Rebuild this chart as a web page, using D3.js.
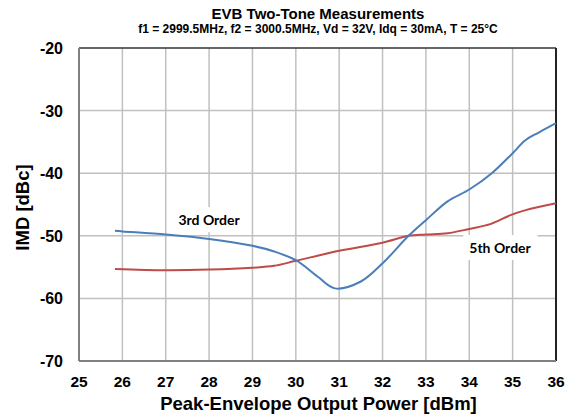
<!DOCTYPE html>
<html><head><meta charset="utf-8">
<script src="https://cdn.jsdelivr.net/npm/d3@7"></script>
<style>body{margin:0;background:#fff}svg{display:block}</style>
</head><body>
<svg id="c" width="566" height="414"></svg>
<script>
const title = "EVB Two-Tone Measurements";
const subtitle = "f1 = 2999.5MHz, f2 = 3000.5MHz, Vd = 32V, Idq = 30mA, T = 25°C";
const xLabel = "Peak-Envelope Output Power [dBm]";
const yLabel = "IMD [dBc]";
const xTicks = [25,26,27,28,29,30,31,32,33,34,35,36];
const yTicks = [-20,-30,-40,-50,-60,-70];
const thirdX = [25.83,26,27,28,29,29.5,30,30.5,30.9,31.5,32,32.6,33,33.5,34,34.52,35,35.3,35.6,36];
const thirdY = [-49.2,-49.3,-49.8,-50.5,-51.6,-52.5,-53.9,-56.5,-58.4,-57.3,-54.4,-50.0,-47.5,-44.5,-42.6,-40.0,-36.8,-34.7,-33.5,-32.0];
const fifthX = [25.83,27,28,29,29.5,30,31,32,32.6,33,33.5,34,34.5,34.95,35.3,36];
const fifthY = [-55.3,-55.5,-55.4,-55.1,-54.8,-54.0,-52.4,-51.1,-50.0,-49.8,-49.6,-48.9,-48.1,-46.7,-45.9,-44.8];
const seriesLabels = ["3rd Order","5th Order"];

const svg = d3.select("#c");
const L = 79, R = 556, T = 48, B = 361;
const x = d3.scaleLinear().domain([25,36]).range([L,R]);
const y = d3.scaleLinear().domain([-70,-20]).range([B,T]);
const F = "'Liberation Sans', Arial, sans-serif";

// gridlines
svg.append("g").selectAll("line").data(xTicks.slice(1,-1)).join("line")
  .attr("x1",d=>x(d)).attr("x2",d=>x(d)).attr("y1",T).attr("y2",B)
  .attr("stroke","#c0c0c0").attr("stroke-width",1.5);
svg.append("g").selectAll("line").data(yTicks.slice(1,-1)).join("line")
  .attr("y1",d=>y(d)).attr("y2",d=>y(d)).attr("x1",L).attr("x2",R)
  .attr("stroke","#c0c0c0").attr("stroke-width",1.5);

// frame
svg.append("line").attr("x1",L).attr("x2",R).attr("y1",T).attr("y2",T).attr("stroke","#333").attr("stroke-width",1.5);
svg.append("line").attr("x1",R).attr("x2",R).attr("y1",T).attr("y2",B).attr("stroke","#222").attr("stroke-width",2);
svg.append("line").attr("x1",L).attr("x2",L).attr("y1",T).attr("y2",B).attr("stroke","#808080").attr("stroke-width",2);
svg.append("line").attr("x1",L).attr("x2",R).attr("y1",B).attr("y2",B).attr("stroke","#808080").attr("stroke-width",2);

// label boxes
const labels = [
  {t:seriesLabels[0], xv:28.0, yv:-48.3},
  {t:seriesLabels[1], xv:34.71, yv:-52.75}
];
const lg = svg.append("g");
labels.forEach(l=>{
  const tx = lg.append("text").attr("x",x(l.xv)).attr("y",y(l.yv))
    .attr("text-anchor","middle").attr("font-family","Lato, 'Open Sans', sans-serif")
    .attr("font-weight","bold").attr("font-size",14).attr("fill","#000").text(l.t);
  const bb = tx.node().getBBox();
  lg.insert("rect","text").attr("x",bb.x-6).attr("y",bb.y-4).attr("width",bb.width+12).attr("height",bb.height+8).attr("fill","#fff");
});

// lines
const line = d3.line().x(d=>x(d[0])).y(d=>y(d[1])).curve(d3.curveCatmullRom.alpha(0.5));
svg.append("path").datum(fifthX.map((v,i)=>[v,fifthY[i]])).attr("d",line)
  .attr("fill","none").attr("stroke","#be4b48").attr("stroke-width",2);
svg.append("path").datum(thirdX.map((v,i)=>[v,thirdY[i]])).attr("d",line)
  .attr("fill","none").attr("stroke","#4a7ebb").attr("stroke-width",2);

// tick labels
svg.append("g").selectAll("text").data(xTicks).join("text")
  .attr("x",d=>x(d)).attr("y",387).attr("text-anchor","middle")
  .attr("font-family",F).attr("font-weight","bold").attr("font-size",15.5).text(d=>d);
svg.append("g").selectAll("text").data(yTicks).join("text")
  .attr("x",63).attr("y",d=>y(d)+6).attr("text-anchor","end")
  .attr("font-family",F).attr("font-weight","bold").attr("font-size",16).text(d=>d);

// titles
svg.append("text").attr("x",318).attr("y",19).attr("text-anchor","middle")
  .attr("font-family",F).attr("font-weight","bold").attr("font-size",15).text(title);
svg.append("text").attr("x",318).attr("y",33.2).attr("text-anchor","middle")
  .attr("font-family",F).attr("font-weight","bold").attr("font-size",12).text(subtitle);
svg.append("text").attr("x",318.5).attr("y",410).attr("text-anchor","middle")
  .attr("font-family",F).attr("font-weight","bold").attr("font-size",18.5).text(xLabel);
svg.append("text").attr("transform","translate(29,207.5) rotate(-90)").attr("text-anchor","middle")
  .attr("font-family",F).attr("font-weight","bold").attr("font-size",18.5).text(yLabel);
</script>
</body></html>
